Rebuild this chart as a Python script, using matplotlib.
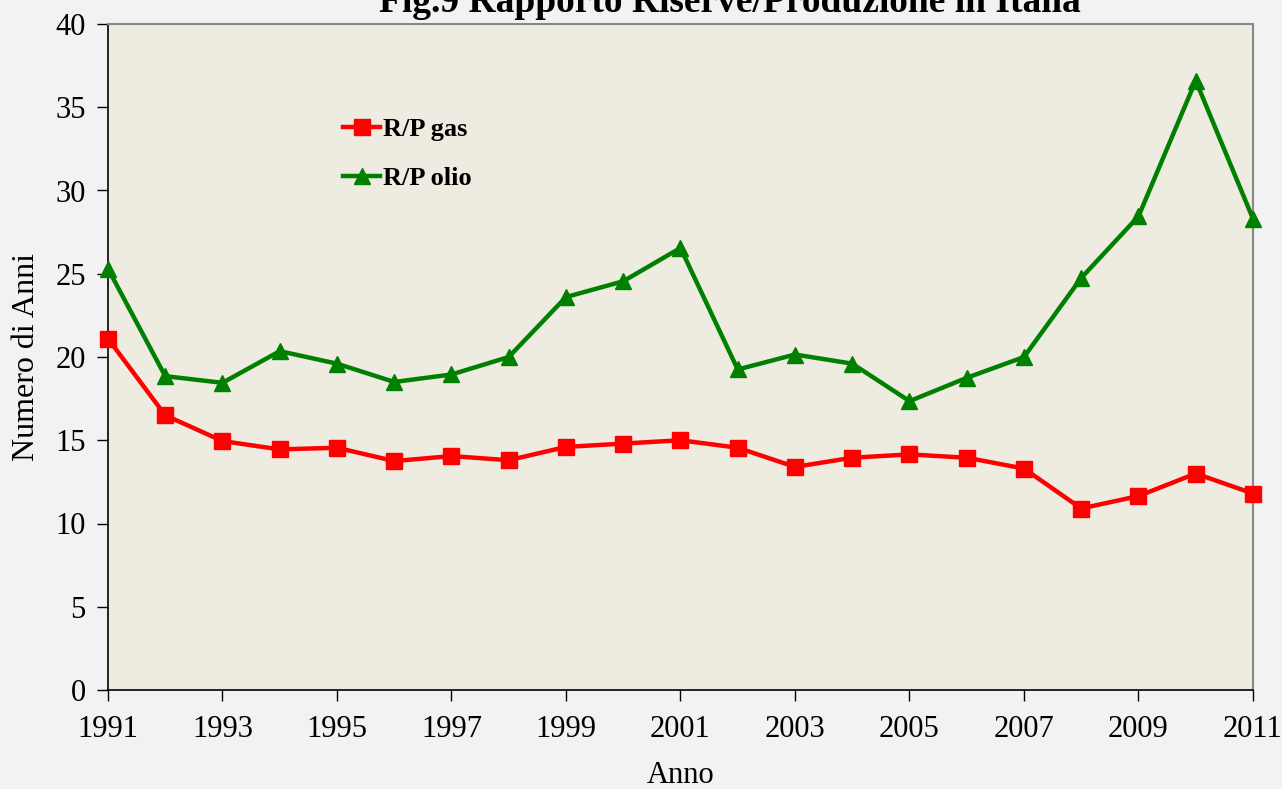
import numpy as np
import matplotlib.pyplot as plt

# --- DATA ---
anni = list(range(1991, 2012))
rp_gas = [21.1, 16.5, 14.95, 14.45, 14.55, 13.75, 14.05, 13.8, 14.6, 14.8, 15.0,
          14.55, 13.4, 13.95, 14.15, 13.95, 13.3, 10.9, 11.65, 13.0, 11.8]
rp_olio = [25.3, 18.85, 18.45, 20.35, 19.6, 18.5, 18.95, 20.0, 23.6, 24.55, 26.55,
           19.25, 20.15, 19.6, 17.35, 18.75, 20.0, 24.75, 28.45, 36.6, 28.3]
xticks = list(range(1991, 2012, 2))

plt.rcParams['font.family'] = ['Liberation Serif', 'DejaVu Serif']

fig = plt.figure(figsize=(12.82, 7.89), dpi=100, facecolor='#f2f2f2')
ax = fig.add_axes([108 / 1282, 1 - 690 / 789, (1253 - 108) / 1282, (690 - 24) / 789])
ax.set_facecolor('#eeebe0')

ax.plot(anni, rp_gas, color='#ff0000', lw=3.2, marker='s', ms=11, label='R/P gas', clip_on=False, zorder=3)
ax.plot(anni, rp_olio, color='#008000', lw=3.2, marker='^', ms=12, label='R/P olio', clip_on=False, zorder=3)

ax.set_xlim(1991, 2011)
ax.set_ylim(0, 40)
ax.set_xticks(xticks)
ax.set_yticks(range(0, 41, 5))
ax.tick_params(labelsize=22, direction='out', length=8, width=1, pad=8)
ax.tick_params(axis='x', pad=10)

for s in ['top', 'right']:
    ax.spines[s].set_color('#888888')
    ax.spines[s].set_linewidth(1.5)
for s in ['left', 'bottom']:
    ax.spines[s].set_color('black')
    ax.spines[s].set_linewidth(1.2)

ax.set_xlabel('Anno', fontsize=22, labelpad=12)
ax.set_ylabel('Numero di Anni', fontsize=23, labelpad=10)

ax.legend(loc='upper left', bbox_to_anchor=(0.194, 0.879), frameon=False, borderpad=0,
          prop={'weight': 'bold', 'size': 19}, handlelength=1.4, handletextpad=0.1,
          labelspacing=0.95)

# title cut at the top edge, as in the original figure
fig.text(730 / 1282, 0.985, 'Fig.9 Rapporto Riserve/Produzione in Italia',
         ha='center', va='baseline', fontsize=27, fontweight='bold')

fig.savefig('out.png', dpi=100, facecolor=fig.get_facecolor())
